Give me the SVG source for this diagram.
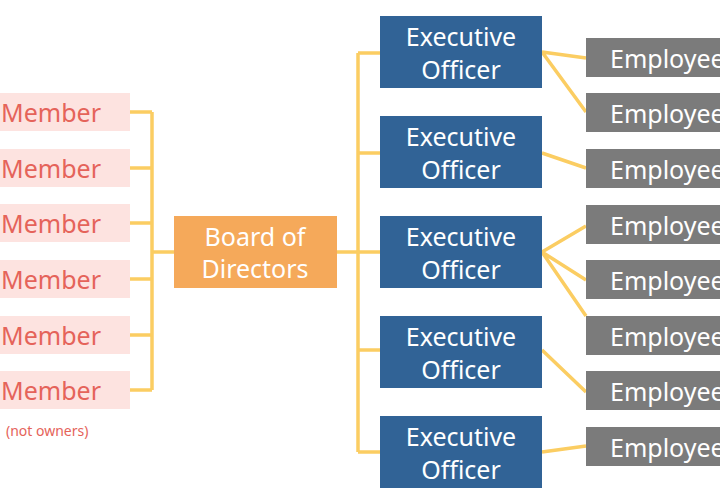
<svg xmlns="http://www.w3.org/2000/svg" width="720" height="500" viewBox="0 0 720 500">
<style>
text{font-family:"Noto Sans","Open Sans",sans-serif;font-size:25px}
.m rect{fill:#fde3e0}.m text{fill:#e5635a}
.b rect{fill:#f5a95a}.e rect{fill:#316396}.p rect{fill:#7b7b7b}
.b text,.e text,.p text{fill:#fff;text-anchor:middle}
.p text{text-anchor:start}
#conn{stroke:#fbcd62;stroke-width:3.5;fill:none}
</style>
<rect width="720" height="500" fill="#fff"/>
<g id="conn">
<path d="M130 112H152M130 168H152M130 223H152M130 279H152M130 335H152M130 390H152M152 112V390M152 252H174"/>
<path d="M337 252H358M358 53V452M358 53H380M358 153H380M358 252H380M358 350H380M358 452H380"/>
<path d="M542 52L586 58M542 52L586 112M542 153L586 168M542 252L586 226M542 252L586 280M542 252L586 316M542 350L586 392M542 452L586 446"/>
</g>
<g id="member1" class="m"><rect x="0" y="93" width="130" height="38"/><text x="1" y="122">Member</text></g>
<g id="member2" class="m"><rect x="0" y="149" width="130" height="38"/><text x="1" y="178">Member</text></g>
<g id="member3" class="m"><rect x="0" y="204" width="130" height="38"/><text x="1" y="233">Member</text></g>
<g id="member4" class="m"><rect x="0" y="260" width="130" height="38"/><text x="1" y="289">Member</text></g>
<g id="member5" class="m"><rect x="0" y="316" width="130" height="38"/><text x="1" y="345">Member</text></g>
<g id="member6" class="m"><rect x="0" y="371" width="130" height="38"/><text x="1" y="400">Member</text></g>
<text x="6" y="436" style="font-size:14px;fill:#e5635a">(not owners)</text>
<g id="board" class="b"><rect x="174" y="216" width="163" height="72"/><text x="255" y="246">Board of</text><text x="255" y="278">Directors</text></g>
<g id="exec1" class="e"><rect x="380" y="16" width="162" height="72"/><text x="461" y="46">Executive</text><text x="461" y="79">Officer</text></g>
<g id="exec2" class="e"><rect x="380" y="116" width="162" height="72"/><text x="461" y="146">Executive</text><text x="461" y="179">Officer</text></g>
<g id="exec3" class="e"><rect x="380" y="216" width="162" height="72"/><text x="461" y="246">Executive</text><text x="461" y="279">Officer</text></g>
<g id="exec4" class="e"><rect x="380" y="316" width="162" height="72"/><text x="461" y="346">Executive</text><text x="461" y="379">Officer</text></g>
<g id="exec5" class="e"><rect x="380" y="416" width="162" height="72"/><text x="461" y="446">Executive</text><text x="461" y="479">Officer</text></g>
<g id="emp1" class="p"><rect x="586" y="38" width="134" height="39"/><text x="610" y="68">Employee</text></g>
<g id="emp2" class="p"><rect x="586" y="93" width="134" height="39"/><text x="610" y="123">Employee</text></g>
<g id="emp3" class="p"><rect x="586" y="149" width="134" height="39"/><text x="610" y="179">Employee</text></g>
<g id="emp4" class="p"><rect x="586" y="205" width="134" height="39"/><text x="610" y="235">Employee</text></g>
<g id="emp5" class="p"><rect x="586" y="260" width="134" height="39"/><text x="610" y="290">Employee</text></g>
<g id="emp6" class="p"><rect x="586" y="316" width="134" height="39"/><text x="610" y="346">Employee</text></g>
<g id="emp7" class="p"><rect x="586" y="371" width="134" height="39"/><text x="610" y="401">Employee</text></g>
<g id="emp8" class="p"><rect x="586" y="427" width="134" height="39"/><text x="610" y="457">Employee</text></g>
</svg>
